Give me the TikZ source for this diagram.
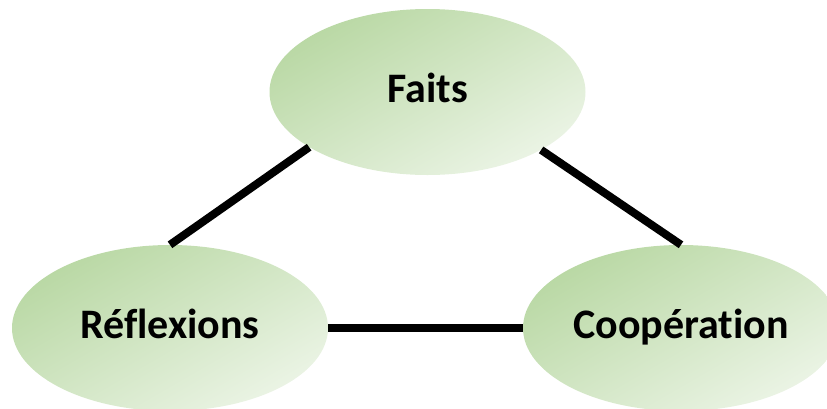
\documentclass[tikz,border=0pt]{standalone}
\usepackage{fontspec}
\setmainfont{Carlito}[Ligatures=NoCommon]
\usetikzlibrary{shapes.geometric}
\definecolor{gdark}{HTML}{B9D8A4}
\definecolor{glight}{HTML}{EBF4E5}
\begin{document}
\begin{tikzpicture}[x=1pt,y=-1pt,
  bubble/.style={ellipse, minimum width=316pt, minimum height=166pt, inner sep=0pt,
    top color=gdark, bottom color=glight, shading angle=30,
    font=\fontsize{42}{50}\selectfont\bfseries, text height=30pt, text depth=10pt},
  link/.style={line width=8pt, black}]
\clip (0,0) rectangle (827,408);
\node[bubble] (T) at (427.5,92) {Faits};
\node[bubble] (L) at (170,328) {Réflexions};
\node[bubble] (R) at (681,328) {Coopération};
\draw[link] (L.north) -- (T.205);
\draw[link] (T.333) -- (R.north);
\draw[link] (L.east) -- (R.west);
\end{tikzpicture}
\end{document}
